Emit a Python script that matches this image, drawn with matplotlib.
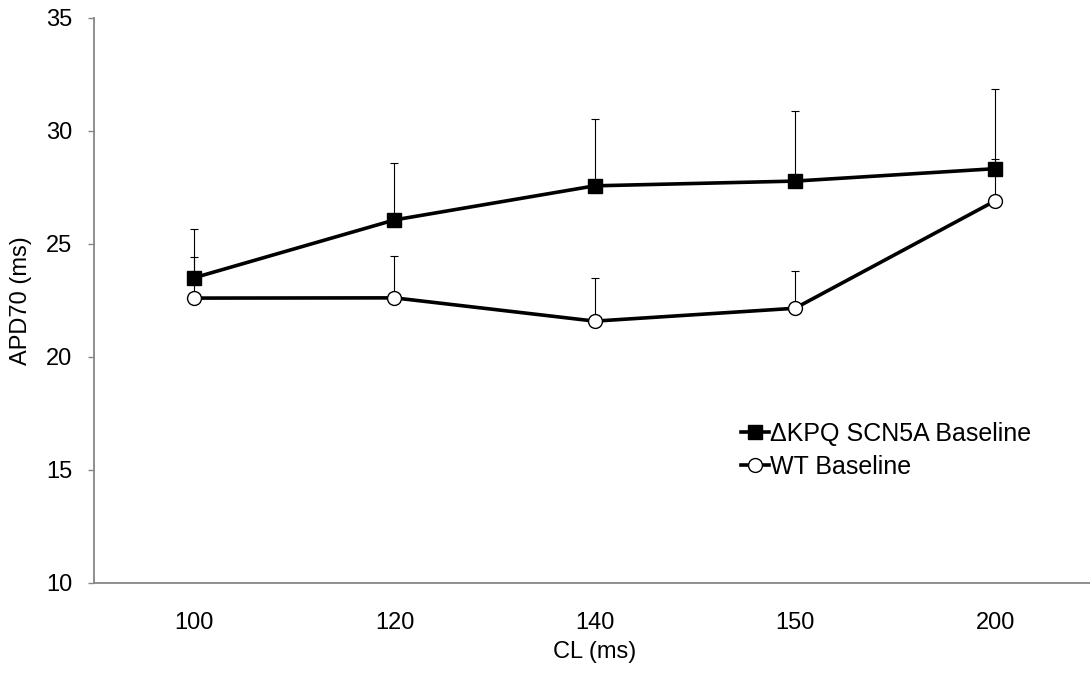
import numpy as np
import matplotlib
matplotlib.use("Agg")
import matplotlib.pyplot as plt

plt.rcParams['font.family'] = ['Liberation Sans', 'DejaVu Sans']

cl_labels = ["100", "120", "140", "150", "200"]
kpq_mean = [23.50, 26.06, 27.57, 27.78, 28.33]
kpq_sd = [2.14, 2.53, 2.96, 3.10, 3.52]
wt_mean = [22.60, 22.61, 21.58, 22.15, 26.91]
wt_sd = [1.82, 1.87, 1.89, 1.65, 1.85]

W, H = 1090, 675
fig = plt.figure(figsize=(W / 100, H / 100), dpi=100)
# plot area: left spine at x=94 px, five categories 200 px apart
ax = fig.add_axes([94 / W, 92.3 / H, 1001.5 / W, 564.7 / H])

x = np.arange(len(cl_labels))
gray = "#868686"
fs = 17

# upper error bars only
for mean, sd in ((kpq_mean, kpq_sd), (wt_mean, wt_sd)):
    ax.errorbar(x, mean, yerr=[np.zeros(len(sd)), sd], fmt="none",
                ecolor="black", elinewidth=0.8, capsize=3.2, capthick=0.8,
                zorder=2)

ax.plot(x, kpq_mean, color="black", lw=2.6, marker="s", markersize=9.5,
        markerfacecolor="black", markeredgecolor="black",
        label="\u0394KPQ SCN5A Baseline", zorder=3)
ax.plot(x, wt_mean, color="black", lw=2.6, marker="o", markersize=10,
        markerfacecolor="white", markeredgecolor="black", markeredgewidth=1.0,
        label="WT Baseline", zorder=3)

ax.set_xlim(-0.5, len(cl_labels) - 0.5)
ax.set_ylim(10, 35)
ax.set_yticks([10, 15, 20, 25, 30, 35])
ax.set_xticks(x)
ax.set_xticklabels(cl_labels)

for side in ("top", "right"):
    ax.spines[side].set_visible(False)
for side in ("left", "bottom"):
    ax.spines[side].set_color(gray)
    ax.spines[side].set_linewidth(1.3)

ax.tick_params(axis="y", direction="out", length=4.5, width=1.0, color=gray,
               labelsize=fs, pad=11)
ax.tick_params(axis="x", length=0, labelsize=fs, pad=21)

ax.set_ylabel("APD70 (ms)", fontsize=fs, labelpad=10)
ax.set_xlabel("CL (ms)", fontsize=fs, labelpad=5)

leg = fig.legend(loc="upper left", bbox_to_anchor=(741 / W, 1 - 422 / H),
                 frameon=False, fontsize=18, handlelength=1.1,
                 handletextpad=0.05, borderpad=0, labelspacing=0.35,
                 borderaxespad=0)

fig.savefig("out.png", dpi=100)
